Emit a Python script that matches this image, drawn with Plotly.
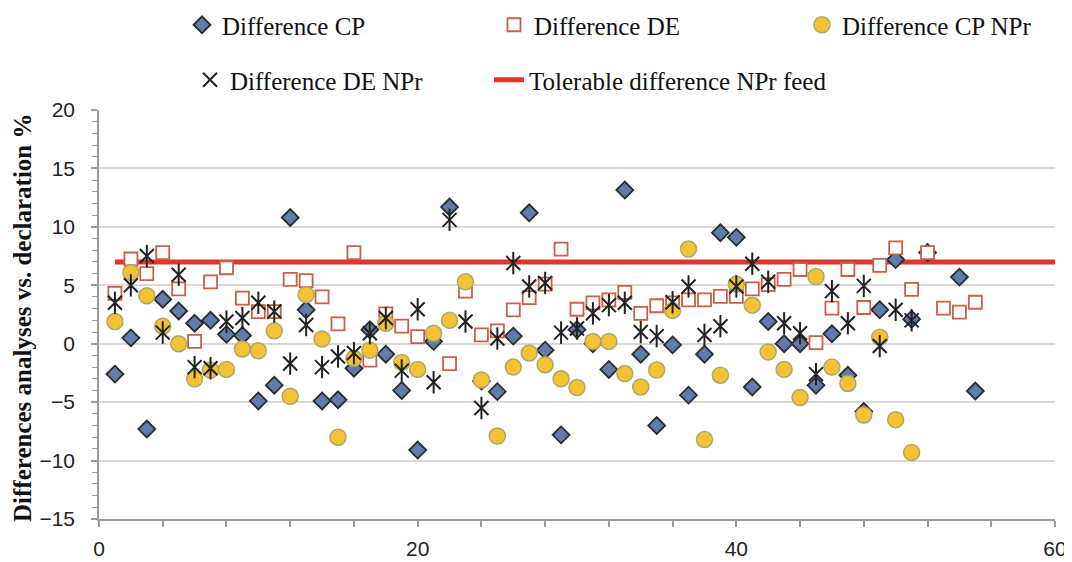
import plotly.graph_objects as go

x_idx = list(range(1, 56))

diff_cp = [-2.6, 0.5, -7.3, 3.8, 2.8, 1.75, 2.0, 0.8, 0.7, -4.9,
           -3.55, 10.8, 2.9, -4.9, -4.8, -2.1, 1.2, -0.9, -4.0, -9.1,
           0.2, 11.7, None, -3.2, -4.1, 0.65, 11.2, -0.55, -7.8, 1.2,
           0.0, -2.2, 13.15, -0.9, -7.0, -0.1, -4.4, -0.9, 9.5, 9.1,
           -3.7, 1.9, 0.0, 0.0, -3.55, 0.85, -2.7, -5.8, 2.9, 7.2,
           2.1, 7.8, None, 5.7, -4.05]

diff_de = [4.3, 7.25, 6.0, 7.8, 4.7, 0.2, 5.3, 6.5, 3.9, 2.75,
           2.75, 5.5, 5.4, 4.0, 1.7, 7.8, -1.4, 2.55, 1.5, 0.6,
           None, -1.7, 4.5, 0.75, 1.1, 2.9, 3.95, 5.1, 8.1, 2.95,
           3.5, 3.75, 4.4, 2.6, 3.25, 3.5, 3.75, 3.75, 4.05, 4.05,
           4.7, 5.05, 5.5, 6.35, 0.1, 3.05, 6.35, 3.1, 6.7, 8.2,
           4.65, 7.8, 3.05, 2.7, 3.55]

diff_cp_npr = [1.9, 6.1, 4.1, 1.5, 0.0, -3.0, -2.25, -2.2, -0.45, -0.6,
               1.1, -4.5, 4.2, 0.4, -8.0, -1.25, -0.55, 1.75, -1.6, -2.2,
               0.9, 2.0, 5.3, -3.1, -7.9, -2.0, -0.8, -1.8, -3.0, -3.75,
               0.2, 0.2, -2.55, -3.7, -2.25, 2.85, 8.1, -8.2, -2.7, 5.1,
               3.3, -0.7, -2.2, -4.6, 5.75, -2.0, -3.4, -6.1, 0.55, -6.5,
               -9.3]

diff_de_npr = [3.5, 5.0, 7.5, 0.95, 5.9, -2.0, -2.1, 1.9, 2.2, 3.5,
               2.75, -1.7, 1.6, -2.0, -1.1, -0.8, 0.9, 2.2, -2.3, 2.95,
               -3.3, 10.6, 1.9, -5.5, 0.45, 6.9, 4.9, 5.2, 0.95, 1.3,
               2.6, 3.3, 3.5, 1.0, 0.65, 3.55, 4.9, 0.75, 1.5, 4.9,
               6.85, 5.3, 1.75, 0.9, -2.6, 4.5, 1.75, 4.95, -0.2, 2.9,
               2.0]

tol_x = [1, 60]
tol_y = [7, 7]

y_ticks = [-15, -10, -5, 0, 5, 10, 15, 20]
x_ticks = [0, 20, 40, 60]

serif = "Liberation Serif"
sans = "Liberation Sans"
OFF = 8  # page body margin offset
W, H = 1072 - OFF, 562 - OFF

fig = go.Figure()

fig.add_trace(go.Scatter(
    x=tol_x, y=tol_y, mode="lines", name="Tolerable difference NPr feed",
    line=dict(color="#e0352b", width=5), legend="legend5"))

fig.add_trace(go.Scatter(
    x=x_idx[:len(diff_cp)], y=diff_cp, mode="markers", name="Difference CP",
    marker=dict(symbol="diamond", size=13, color="#5f7cab",
                line=dict(color="#2b2b2b", width=1.8)),
    legend="legend"))

fig.add_trace(go.Scatter(
    x=x_idx[:len(diff_de)], y=diff_de, mode="markers", name="Difference DE",
    marker=dict(symbol="square", size=13, color="white",
                line=dict(color="#cc5f45", width=1.8)),
    legend="legend2"))

fig.add_trace(go.Scatter(
    x=x_idx[:len(diff_cp_npr)], y=diff_cp_npr, mode="markers",
    name="Difference CP NPr",
    marker=dict(symbol="circle", size=16, color="#f5c232",
                line=dict(color="#a8a870", width=1.5)),
    legend="legend3"))

fig.add_trace(go.Scatter(
    x=x_idx[:len(diff_de_npr)], y=diff_de_npr, mode="markers",
    name="Difference DE NPr",
    marker=dict(symbol="x-thin-open", size=14, color="#222222",
                line=dict(color="#222222", width=2)),
    legend="legend4"))

fig.add_trace(go.Scatter(
    x=x_idx[:len(diff_de_npr)], y=diff_de_npr, mode="markers",
    showlegend=False, hoverinfo="skip",
    marker=dict(symbol="line-ns-open", size=16, color="#222222",
                line=dict(color="#222222", width=2))))


def leg(sym_px, row_px):
    return dict(xref="container", yref="container",
                x=(sym_px - OFF - 23) / W, xanchor="left",
                y=1 - (row_px - OFF) / H, yanchor="middle",
                font=dict(family=serif, size=25, color="#111111"),
                itemwidth=30, bgcolor="rgba(0,0,0,0)", borderwidth=0)


fig.update_layout(
    width=W, height=H,
    margin=dict(l=99 - OFF, r=W - (1055 - OFF), t=110 - OFF, b=H - (519 - OFF),
                autoexpand=False),
    paper_bgcolor="white", plot_bgcolor="white",
    legend=leg(205, 25),
    legend2=leg(517, 25),
    legend3=leg(825, 25),
    legend4=leg(213, 80),
    legend5=leg(512, 80),
    xaxis=dict(range=[0, 60], tickvals=x_ticks, ticks="outside", ticklen=6,
               tickwidth=1.5, tickcolor="#9a9a9a", showgrid=False, zeroline=False,
               showline=True, linecolor="#9a9a9a", linewidth=1.5,
               ticklabelstandoff=4,
               minor=dict(dtick=4, ticks="outside", ticklen=6, tickcolor="#9a9a9a",
                          tickwidth=1.5, showgrid=False),
               tickfont=dict(family=sans, size=21, color="#222222")),
    yaxis=dict(range=[-15, 20], tickvals=y_ticks, ticks="outside", ticklen=6,
               tickwidth=1.5, tickcolor="#9a9a9a", showgrid=True,
               gridcolor="#dcd6d6", gridwidth=1.5, zeroline=False,
               showline=True, linecolor="#9a9a9a", linewidth=1.5,
               ticklabelstandoff=12,
               minor=dict(dtick=1, ticks="outside", ticklen=5, tickcolor="#9a9a9a",
                          tickwidth=1.2, showgrid=False),
               tickfont=dict(family=sans, size=21, color="#222222")),
    annotations=[dict(
        text="<b>Differences analyses vs. declaration %</b>",
        x=(22 - 99) / 956, y=(519 - 318) / 409, xref="paper", yref="paper",
        textangle=-90, showarrow=False, xanchor="center", yanchor="middle",
        font=dict(family=serif, size=25, color="#111111"))],
)

fig.write_html("out.html")
